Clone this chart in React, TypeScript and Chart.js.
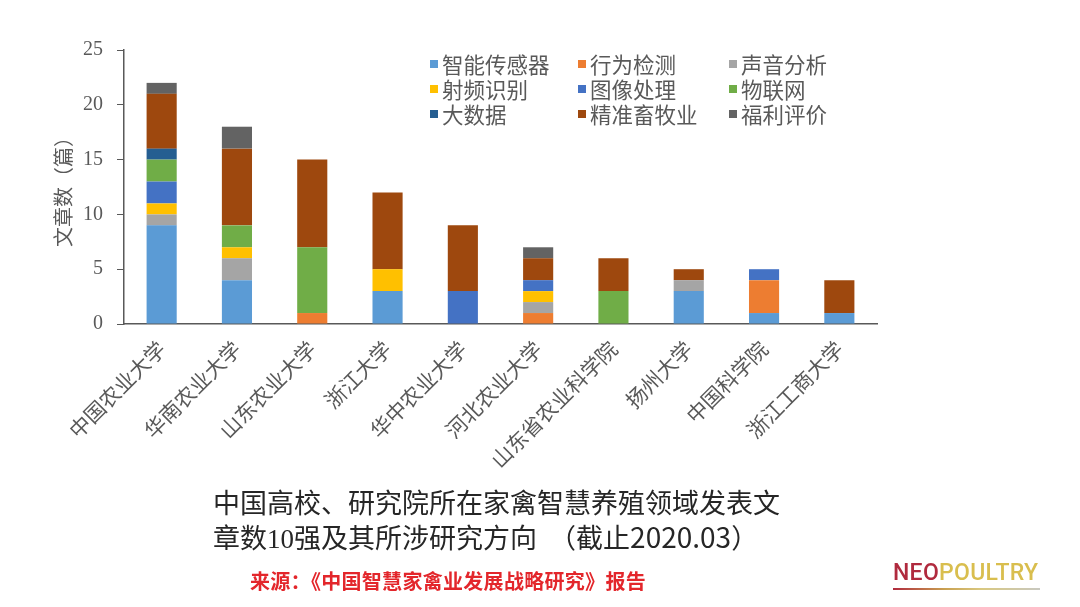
import React, { useEffect, useRef } from 'react';
import { Chart, registerables } from 'chart.js';

Chart.register(...registerables);

const categories = ['中国农业大学', '华南农业大学', '山东农业大学', '浙江大学', '华中农业大学', '河北农业大学', '山东省农业科学院', '扬州大学', '中国科学院', '浙江工商大学'];

const seriesNames = ['智能传感器', '行为检测', '声音分析', '射频识别', '图像处理', '物联网', '大数据', '精准畜牧业', '福利评价'];
const seriesColors = ['#5B9BD5', '#ED7D31', '#A5A5A5', '#FFC000', '#4472C4', '#70AD47', '#255E91', '#9E480E', '#636363'];

const smartSensor = [9, 4, 0, 3, 0, 0, 0, 3, 1, 1];
const behaviorDetect = [0, 0, 1, 0, 0, 1, 0, 0, 3, 0];
const soundAnalysis = [1, 2, 0, 0, 0, 1, 0, 1, 0, 0];
const rfid = [1, 1, 0, 2, 0, 1, 0, 0, 0, 0];
const imageProcessing = [2, 0, 0, 0, 3, 1, 0, 0, 1, 0];
const iot = [2, 2, 6, 0, 0, 0, 3, 0, 0, 0];
const bigData = [1, 0, 0, 0, 0, 0, 0, 0, 0, 0];
const precisionLivestock = [5, 7, 8, 7, 6, 2, 3, 1, 0, 3];
const welfare = [1, 2, 0, 0, 0, 1, 0, 0, 0, 0];

const seriesValues = [smartSensor, behaviorDetect, soundAnalysis, rfid, imageProcessing, iot, bigData, precisionLivestock, welfare];

const yTicks = [0, 5, 10, 15, 20, 25];

const CJK = '"Noto Sans CJK SC", "Noto Sans", sans-serif';
const SERIF = '"Liberation Serif", "DejaVu Serif", serif';

const legendCols = [430, 578, 729];
const legendTop = 64;
const legendStep = 25;

const gridLegend = {
  id: 'gridLegend',
  afterDraw(chart: any) {
    const ctx = chart.ctx;
    ctx.save();
    ctx.font = `21.5px ${CJK}`;
    ctx.textBaseline = 'middle';
    ctx.textAlign = 'left';
    chart.data.datasets.forEach((ds: any, i: number) => {
      const x = legendCols[i % 3];
      const y = legendTop + Math.floor(i / 3) * legendStep;
      ctx.fillStyle = ds.backgroundColor;
      ctx.fillRect(x, y - 4, 8, 8);
      ctx.fillStyle = '#595959';
      ctx.fillText(ds.label, x + 12, y + 1);
    });
    ctx.restore();
  },
};

export default function App() {
  const canvasRef = useRef<HTMLCanvasElement | null>(null);

  useEffect(() => {
    if (!canvasRef.current) return;
    const chart = new Chart(canvasRef.current, {
      type: 'bar',
      data: {
        labels: categories,
        datasets: seriesNames.map((name, i) => ({
          label: name,
          data: seriesValues[i],
          backgroundColor: seriesColors[i],
          borderWidth: 0,
          categoryPercentage: 0.8,
          barPercentage: 0.5,
        })),
      },
      options: {
        animation: false,
        responsive: false,
        maintainAspectRatio: false,
        layout: { padding: { left: 47, right: 203, top: 50, bottom: 0 } },
        plugins: {
          legend: { display: false },
          tooltip: { enabled: false },
          title: { display: false },
        },
        scales: {
          x: {
            stacked: true,
            grid: { display: false },
            border: { display: true, color: '#595959', width: 1.5 },
            ticks: {
              autoSkip: false,
              maxRotation: 45,
              minRotation: 45,
              padding: 4,
              color: '#595959',
              font: { family: CJK, size: 21 },
            },
            afterFit: (scale: any) => {
              scale.height = 283;
            },
          },
          y: {
            stacked: true,
            min: 0,
            max: 25,
            afterBuildTicks: (scale: any) => {
              scale.ticks = yTicks.map((v) => ({ value: v }));
            },
            grid: { display: true, drawOnChartArea: false, drawTicks: true, tickLength: 7, color: '#595959' },
            border: { display: true, color: '#595959', width: 1.5 },
            ticks: {
              padding: 14,
              color: '#595959',
              font: { family: SERIF, size: 20 },
            },
            title: {
              display: true,
              text: '文章数（篇）',
              color: '#595959',
              font: { family: CJK, size: 20 },
              padding: { top: 4, bottom: 4 },
            },
            afterFit: (scale: any) => {
              scale.width = 77;
            },
          },
        },
      },
      plugins: [gridLegend],
    });
    return () => chart.destroy();
  }, []);

  return (
    <div style={{ position: 'absolute', left: 0, top: 0, width: 1080, height: 607, background: '#fff', overflow: 'hidden' }}>
      <canvas ref={canvasRef} width={1080} height={607} style={{ position: 'absolute', left: 0, top: 0, width: 1080, height: 607 }} />
      <div
        style={{
          position: 'absolute',
          left: 213,
          top: 484,
          fontFamily: CJK,
          fontSize: 27,
          lineHeight: '35px',
          color: '#262626',
          whiteSpace: 'pre',
        }}
      >
        <div>中国高校、研究院所在家禽智慧养殖领域发表文</div>
        <div>
          章数<span style={{ fontFamily: SERIF }}>10</span>强及其所涉研究方向  （截止<span style={{ fontSize: 28 }}>2020.03</span>）
        </div>
      </div>
      <div
        style={{
          position: 'absolute',
          left: 250,
          top: 568,
          fontFamily: CJK,
          fontWeight: 700,
          fontSize: 20,
          letterSpacing: 0.3,
          lineHeight: '26px',
          color: '#E3262B',
          whiteSpace: 'nowrap',
        }}
      >
        来源：《中国智慧家禽业发展战略研究》报告
      </div>
      <div
        style={{
          position: 'absolute',
          left: 893,
          top: 560,
          fontFamily: 'Roboto, "Noto Sans", sans-serif',
          fontWeight: 500,
          fontSize: 23,
          letterSpacing: 0.3,
          lineHeight: '26px',
          whiteSpace: 'nowrap',
        }}
      >
        <span style={{ color: '#B02A3E' }}>NEO</span>
        <span style={{ color: '#D9BE4E' }}>POULTRY</span>
      </div>
      <div
        style={{
          position: 'absolute',
          left: 893,
          top: 588,
          width: 147,
          height: 2,
          background: 'linear-gradient(90deg, #B02A3E 0%, #C9A050 35%, #D9C880 60%, #C8C8C0 100%)',
        }}
      />
    </div>
  );
}
